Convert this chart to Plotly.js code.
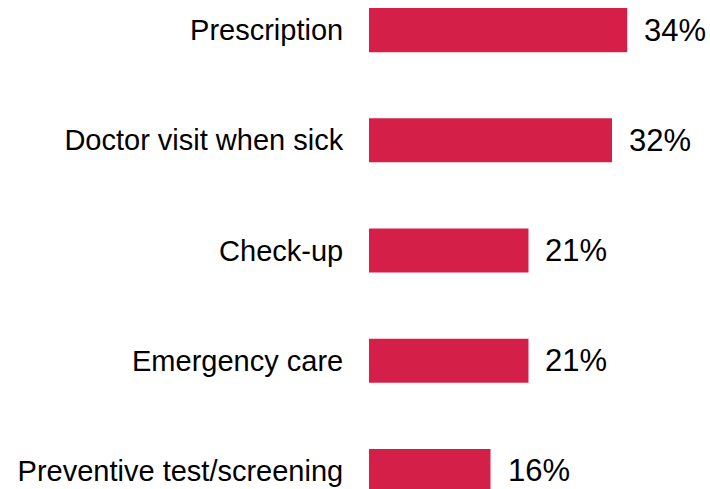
<!DOCTYPE html>
<html>
<head>
<meta charset="utf-8">
<script src="https://cdn.plot.ly/plotly-3.0.1.min.js"></script>
<style>html,body{margin:0;padding:0;background:#fff;}#chart{width:710px;height:489px;}</style>
</head>
<body>
<div id="chart"></div>
<script>
const categories = ["Prescription", "Doctor visit when sick", "Check-up", "Emergency care", "Preventive test/screening"];
const values = [34, 32, 21, 21, 16];
const valueLabels = ["34%", "32%", "21%", "21%", "16%"];

const barColor = "#D42049";
const font = "Arial, 'Liberation Sans', sans-serif";

const trace = {
  type: "bar",
  orientation: "h",
  x: values,
  y: categories,
  marker: {color: barColor},
  width: 0.4,
  hoverinfo: "none"
};

const annotations = categories.map((c, i) => ({
  x: values[i], y: c, xref: "x", yref: "y",
  text: valueLabels[i], showarrow: false,
  xanchor: "left", yanchor: "middle", xshift: 15,
  font: {family: font, size: 31, color: "#000"}
}));

const layout = {
  width: 710, height: 489,
  margin: {l: 369, r: 0, t: 0, b: 0},
  paper_bgcolor: "#fff", plot_bgcolor: "#fff",
  showlegend: false,
  xaxis: {range: [0, 44.9], visible: false, fixedrange: true},
  yaxis: {
    type: "category",
    categoryorder: "array", categoryarray: categories,
    range: [4.164, -0.273],
    showgrid: false, zeroline: false, showline: false,
    ticks: "outside", ticklen: 19, tickcolor: "rgba(0,0,0,0)",
    tickfont: {family: font, size: 29, color: "#000"},
    fixedrange: true
  },
  annotations: annotations
};

Plotly.newPlot("chart", [trace], layout, {displayModeBar: false, staticPlot: true});
</script>
</body>
</html>
